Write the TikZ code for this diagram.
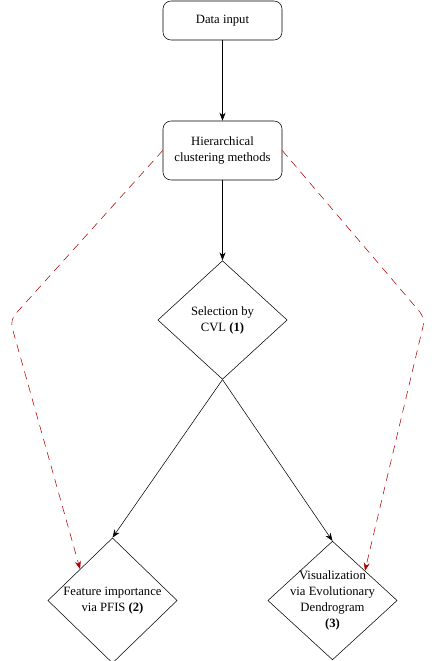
\documentclass[tikz,border=0pt]{standalone}
\usepackage{fontspec}
\setmainfont{Liberation Serif}
\usepackage{xcolor}
\usetikzlibrary{arrows.meta,positioning,shapes.geometric,calc}
\definecolor{dashred}{HTML}{B20000}

\begin{document}
\begin{tikzpicture}[x=0.75pt, y=-0.75pt,
    every node/.style={font=\fontsize{9.5pt}{12pt}\selectfont, align=center},
    stepbox/.style={draw, rounded corners=6pt, minimum width=89.25pt, minimum height=29.25pt, inner sep=2pt},
    decision/.style={draw, diamond, minimum width=97pt, minimum height=89pt, inner sep=0pt},
    flow/.style={-{Stealth[length=6pt,width=4.5pt]}, black},
    reddash/.style={-{Stealth[length=6pt,width=4.5pt]}, dashred, dash pattern=on 6pt off 4.5pt, rounded corners=6pt}]

    \useasboundingbox (0,0) rectangle (436,661);

    % Boxes
    \node[stepbox] (input) at (222.5,20.5) {Data input};
    \node[stepbox, minimum height=44.25pt] (hier) at (222.5,150.5) {Hierarchical\\clustering methods};

    % Decisions
    \node[decision] (sel) at (222.5,320) {Selection by\\CVL \textbf{(1)}};
    \node[decision] (feat) at (112.5,600.5) {Feature importance\\via PFIS \textbf{(2)}};
    \node[decision, inner sep=-8pt] (viz) at (332.5,600.5) {Visualization\\via Evolutionary\\Dendrogram\\\textbf{(3)}};

    % Bends of the dashed links
    \coordinate (lbend) at (10,320);
    \coordinate (rbend) at (425,318);

    % Connections
    \draw[flow] (input) -- (hier);
    \draw[flow] (hier) -- (sel);
    \draw[flow] (sel.south) -- (feat.north);
    \draw[flow] (sel.south) -- (viz.north);

    \draw[reddash] (hier.west) -- (lbend) -- (feat.north west);
    \draw[reddash] (hier.east) -- (rbend) -- (viz.north east);

\end{tikzpicture}
\end{document}
